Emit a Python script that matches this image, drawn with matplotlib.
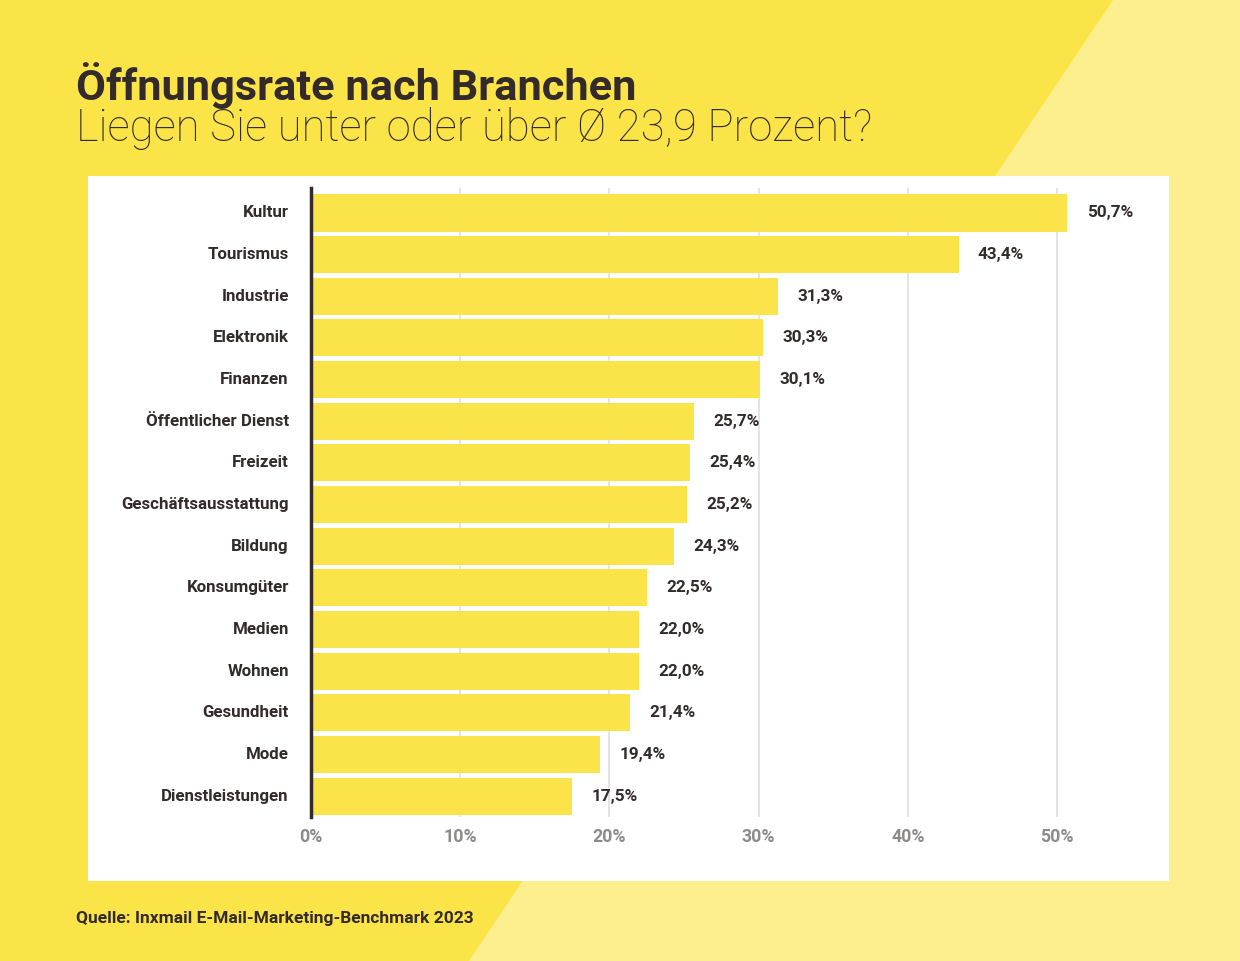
import matplotlib
matplotlib.use("Agg")
import matplotlib.pyplot as plt
from matplotlib.patches import Polygon, Rectangle

categories = ["Kultur", "Tourismus", "Industrie", "Elektronik", "Finanzen",
              "Öffentlicher Dienst", "Freizeit", "Geschäftsausstattung", "Bildung",
              "Konsumgüter", "Medien", "Wohnen", "Gesundheit", "Mode", "Dienstleistungen"]
values = [50.7, 43.4, 31.3, 30.3, 30.1, 25.7, 25.4, 25.2, 24.3, 22.5, 22.0, 22.0, 21.4, 19.4, 17.5]
ticks = [0, 10, 20, 30, 40, 50]

title = "Öffnungsrate nach Branchen"
subtitle = "Liegen Sie unter oder über Ø 23,9 Prozent?"
source = "Quelle: Inxmail E-Mail-Marketing-Benchmark 2023"

YELLOW = "#FBE448"
LIGHT = "#FDEE8E"
BAR = "#FBE44A"
DARK = "#332B2B"
GRAY = "#8E8A8A"

W, H = 1240, 961
fig = plt.figure(figsize=(W / 100, H / 100), dpi=100)
fig.patch.set_facecolor(YELLOW)

# background decoration in pixel coords
bg = fig.add_axes([0, 0, 1, 1])
bg.set_xlim(0, W)
bg.set_ylim(H, 0)
bg.axis("off")
bg.add_patch(Polygon([[1113, 0], [W, 0], [W, H], [469, H]], closed=True,
                     facecolor=LIGHT, edgecolor="none"))
bg.add_patch(Rectangle((88, 176), 1169 - 88, 881 - 176, facecolor="white", edgecolor="none"))

fam = ["Roboto", "DejaVu Sans"]
fig.text(76 / W, 1 - 86 / H, title, fontsize=31.2, fontweight="bold", color=DARK,
         family=fam, va="center", ha="left")
fig.text(76 / W, 1 - 128 / H, subtitle, fontsize=31.5, fontweight="light", color=DARK,
         family=fam, va="center", ha="left")
fig.text(76 / W, 1 - 918 / H, source, fontsize=12.5, fontweight="bold", color=DARK,
         family=fam, va="center", ha="left")

# main chart axes
x0, x1 = 311, 1150
y0, y1 = 188, 817
ax = fig.add_axes([x0 / W, 1 - y1 / H, (x1 - x0) / W, (y1 - y0) / H])
ax.set_facecolor("none")
xmax = (x1 - x0) / ((1057 - 311) / 50)
ax.set_xlim(0, xmax)
ax.set_ylim(14.5, -0.6)

ypos = list(range(len(categories)))
for t in ticks[1:]:
    ax.axvline(t, color="#E2E2E2", lw=1.3, zorder=0)
ax.barh(ypos, values, height=0.89, color=BAR, zorder=2)
for y, v in zip(ypos, values):
    ax.text(v + 1.3, y, f"{v:.1f}%".replace(".", ","), va="center", ha="left",
            fontsize=12.3, fontweight="bold", color=DARK, family=fam)

ax.set_yticks(ypos)
ax.set_yticklabels(categories, fontsize=12.2, fontweight="bold", color=DARK, family=fam,
                   va="center")
ax.tick_params(axis="y", length=0, pad=16)
ax.set_xticks(ticks)
ax.set_xticklabels([f"{t}%" for t in ticks], fontsize=12.8, fontweight="bold", color=GRAY, family=fam)
ax.tick_params(axis="x", length=0, pad=8)
for s in ["top", "right", "bottom"]:
    ax.spines[s].set_visible(False)
ax.spines["left"].set_color(DARK)
ax.spines["left"].set_linewidth(2.5)
ax.spines["left"].set_zorder(3)

fig.savefig("out.png", dpi=100, facecolor=fig.get_facecolor())
